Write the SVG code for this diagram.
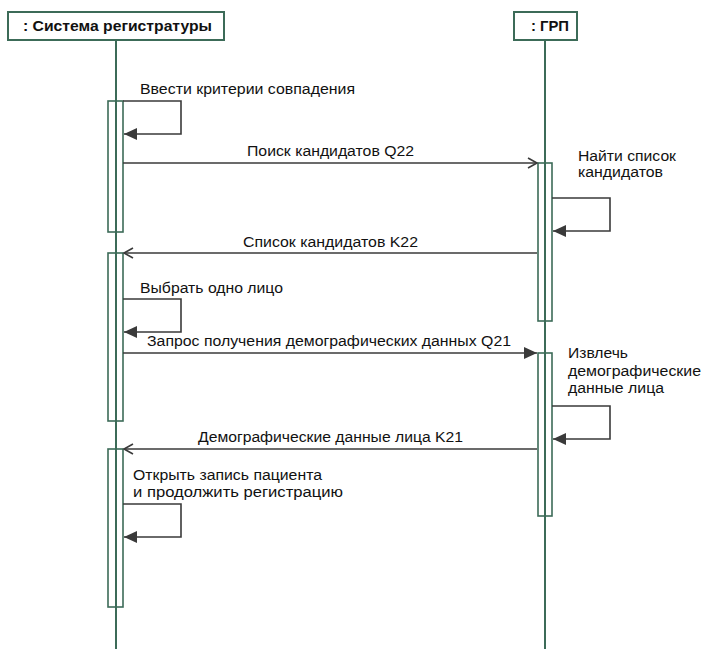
<svg xmlns="http://www.w3.org/2000/svg" width="703" height="649" viewBox="0 0 703 649">
  <style>
    .bg { fill: #ffffff; }
    .head { fill: #ffffff; stroke: #3c6b58; stroke-width: 2; }
    .head-text { font-family: "Liberation Sans", Arial, sans-serif; font-size: 14.5px; font-weight: bold; fill: #111111; }
    .life { stroke: #3c6b58; stroke-width: 2; fill: none; }
    .act { fill: none; stroke: #3c6b58; stroke-width: 1.6; }
    .msg { stroke: #3a3a3a; stroke-width: 1.6; fill: none; }
    .lbl { font-family: "Liberation Sans", Arial, sans-serif; font-size: 14px; fill: #111111; }
  </style>
  <defs>
    <marker id="open" markerWidth="12" markerHeight="12" refX="10" refY="6" orient="auto" markerUnits="userSpaceOnUse">
      <path d="M1,1 L10,6 L1,11" fill="none" stroke="#3a3a3a" stroke-width="1.6"/>
    </marker>
    <marker id="solid" markerWidth="14" markerHeight="12" refX="13" refY="6" orient="auto" markerUnits="userSpaceOnUse">
      <path d="M0,0 L13,6 L0,12 Z" fill="#3a3a3a"/>
    </marker>
  </defs>
  <rect class="bg" x="0" y="0" width="703" height="649"/>

  <!-- lifelines -->
  <g id="lifelines">
    <line class="life" x1="116" y1="40" x2="116" y2="649"/>
    <line class="life" x1="545" y1="40" x2="545" y2="649"/>
  </g>

  <g id="registry">
    <rect class="head" x="8" y="12" width="216" height="28"/>
    <text class="head-text" x="23" y="31" textLength="189" lengthAdjust="spacingAndGlyphs">: Система регистратуры</text>
    <rect class="act" x="108" y="101" width="15" height="131"/>
    <rect class="act" x="108" y="253" width="15" height="168"/>
    <rect class="act" x="108" y="449" width="15" height="158"/>
  </g>

  <g id="mpi">
    <rect class="head" x="514" y="12" width="63" height="28"/>
    <text class="head-text" x="531" y="31" textLength="38" lengthAdjust="spacingAndGlyphs">: ГРП</text>
    <rect class="act" x="538" y="163" width="14" height="158"/>
    <rect class="act" x="538" y="353" width="14" height="163"/>
  </g>

  <!-- messages -->
  <g id="connectors">
    <path class="msg" d="M123,101 H181 V134 H124" marker-end="url(#solid)"/>
    <line class="msg" x1="123" y1="163" x2="537" y2="163" marker-end="url(#open)"/>
    <path class="msg" d="M552,198 H610 V231 H553" marker-end="url(#solid)"/>
    <line class="msg" x1="537" y1="253" x2="124" y2="253" marker-end="url(#open)"/>
    <path class="msg" d="M123,299 H181 V332 H124" marker-end="url(#solid)"/>
    <line class="msg" x1="123" y1="353" x2="537" y2="353" marker-end="url(#solid)"/>
    <path class="msg" d="M552,406 H610 V439 H553" marker-end="url(#solid)"/>
    <line class="msg" x1="537" y1="449" x2="124" y2="449" marker-end="url(#open)"/>
    <path class="msg" d="M123,504 H181 V537 H124" marker-end="url(#solid)"/>
  </g>

  <g id="labels">
    <text class="lbl" x="140" y="94" textLength="215" lengthAdjust="spacingAndGlyphs">Ввести критерии совпадения</text>
    <text class="lbl" x="247" y="156" textLength="167" lengthAdjust="spacingAndGlyphs">Поиск кандидатов Q22</text>
    <text class="lbl" x="578" y="161" textLength="98" lengthAdjust="spacingAndGlyphs">Найти список</text>
    <text class="lbl" x="578" y="177" textLength="85" lengthAdjust="spacingAndGlyphs">кандидатов</text>
    <text class="lbl" x="243" y="247" textLength="175" lengthAdjust="spacingAndGlyphs">Список кандидатов K22</text>
    <text class="lbl" x="140" y="293" textLength="143" lengthAdjust="spacingAndGlyphs">Выбрать одно лицо</text>
    <text class="lbl" x="147" y="346" textLength="364" lengthAdjust="spacingAndGlyphs">Запрос получения демографических данных Q21</text>
    <text class="lbl" x="568" y="358" textLength="60" lengthAdjust="spacingAndGlyphs">Извлечь</text>
    <text class="lbl" x="568" y="376" textLength="133" lengthAdjust="spacingAndGlyphs">демографические</text>
    <text class="lbl" x="568" y="393" textLength="96" lengthAdjust="spacingAndGlyphs">данные лица</text>
    <text class="lbl" x="198" y="442" textLength="265" lengthAdjust="spacingAndGlyphs">Демографические данные лица K21</text>
    <text class="lbl" x="133" y="480" textLength="189" lengthAdjust="spacingAndGlyphs">Открыть запись пациента</text>
    <text class="lbl" x="133" y="497" textLength="210" lengthAdjust="spacingAndGlyphs">и продолжить регистрацию</text>
  </g>
</svg>
